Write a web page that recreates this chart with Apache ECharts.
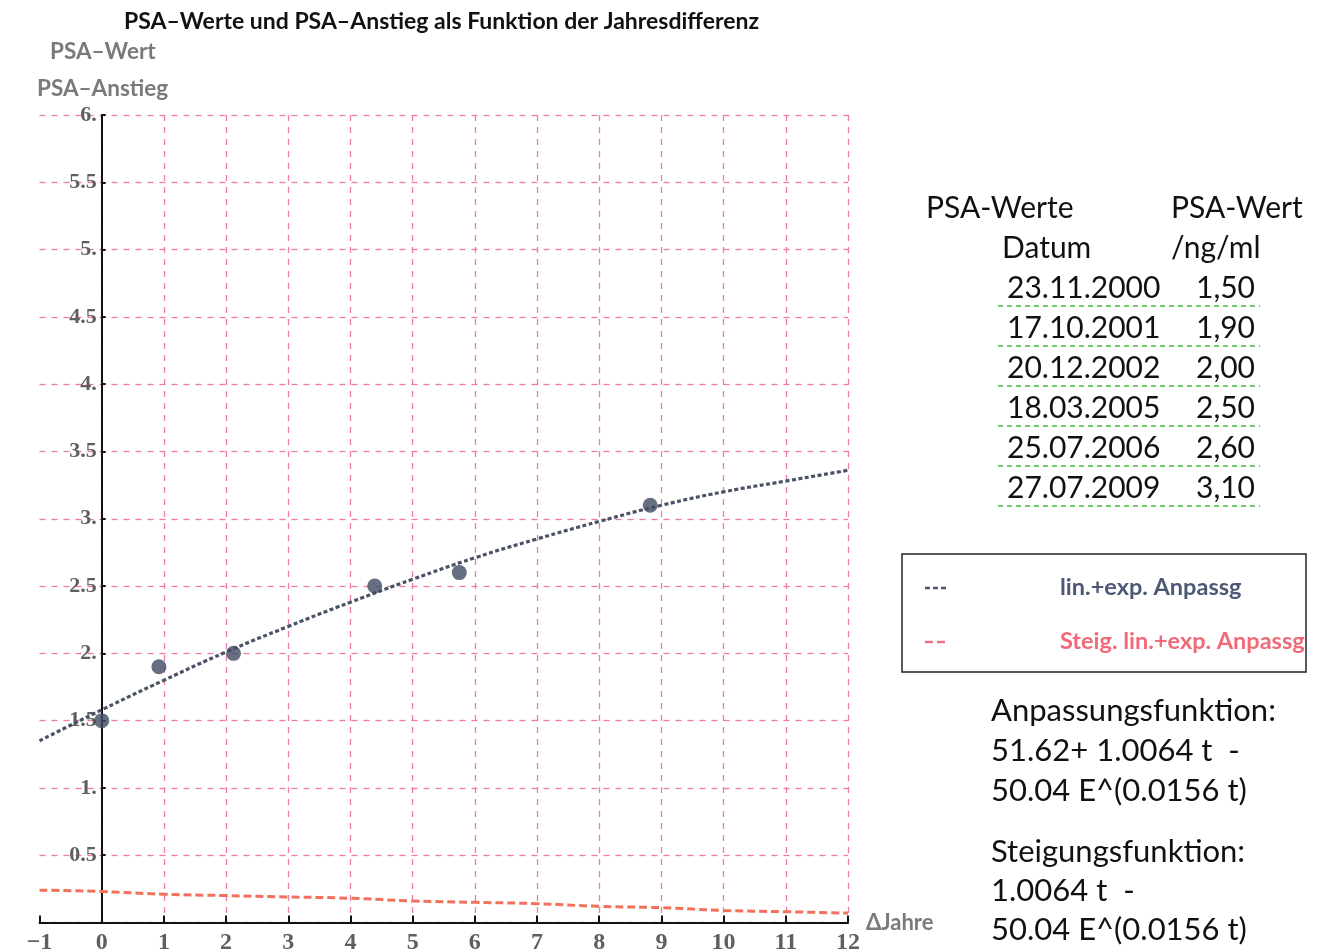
<!DOCTYPE html>
<html>
<head>
<meta charset="utf-8">
<script src="https://cdn.jsdelivr.net/npm/echarts@6/dist/echarts.min.js"></script>
<style>
  html, body { margin: 0; padding: 0; background: #fff; }
  #chart { width: 1322px; height: 951px; }
</style>
</head>
<body>
<div id="chart"></div>
<script>
// Measured PSA values
const measureDates = ['23.11.2000', '17.10.2001', '20.12.2002', '18.03.2005', '25.07.2006', '27.07.2009'];
const yearDiff = [0, 0.92, 2.12, 4.39, 5.75, 8.82];
const psaValues = [1.50, 1.90, 2.00, 2.50, 2.60, 3.10];

// Fitted curve and its slope, sampled per year
const curveYears = [-1, 0, 1, 2, 3, 4, 5, 6, 7, 8, 9, 10, 11, 12];
const fitValues = [1.35, 1.58, 1.80, 2.01, 2.20, 2.38, 2.55, 2.71, 2.85, 2.98, 3.10, 3.20, 3.28, 3.36];
const slopeValues = [0.24, 0.23, 0.21, 0.20, 0.19, 0.18, 0.16, 0.15, 0.14, 0.12, 0.11, 0.09, 0.08, 0.07];

// Text blocks
const titleText = 'PSA–Werte und PSA–Anstieg als Funktion der Jahresdifferenz';
const fitFormula = ['Anpassungsfunktion:', '51.62+ 1.0064 t  -', '50.04 E^(0.0156 t)'];
const slopeFormula = ['Steigungsfunktion:', '1.0064 t  -', '50.04 E^(0.0156 t)'];
const legendNames = ['lin.+exp. Anpassg', 'Steig. lin.+exp. Anpassg'];

const SANS = 'Lato, "Open Sans", sans-serif';
const SERIF = '"Liberation Serif", "DejaVu Serif", serif';
const PINK = '#f27aa6';
const FIT_COLOR = '#4a5366';
const SLOPE_COLOR = '#f2705c';
const POINT_COLOR = '#3f4b62';
const TICK_LABEL_COLOR = '#5f5f5f';

const chart = echarts.init(document.getElementById('chart'), null, { renderer: 'canvas' });

const gridLeft = 39.5, gridRight = 474, gridTop = 115, gridBottom = 28.5;
// y axis sits at t = 0, one year to the right of the plot's left border
const yAxisShift = (1322 - gridLeft - gridRight) / 13;

// Vertical grid lines: none at the left border (t = -1)
const vColors = curveYears.map((t, i) => i === 0 ? 'rgba(0,0,0,0)' : PINK);

const graphics = [];

graphics.push({
  type: 'text', left: 124, top: 10,
  style: { text: titleText, font: 'bold 23px ' + SANS, fill: '#111' }
});
graphics.push({
  type: 'text', left: 50, top: 40,
  style: { text: 'PSA–Wert', font: 'bold 22.5px ' + SANS, fill: '#7a7a7a' }
});
graphics.push({
  type: 'text', left: 37, top: 77,
  style: { text: 'PSA–Anstieg', font: 'bold 22.5px ' + SANS, fill: '#7a7a7a' }
});

// Value table
const tableFont = '30px ' + SANS;
graphics.push({ type: 'text', x: 926, y: 208, style: { text: 'PSA-Werte', font: tableFont, fill: '#111', verticalAlign: 'middle' } });
graphics.push({ type: 'text', x: 1171, y: 208, style: { text: 'PSA-Wert', font: tableFont, fill: '#111', verticalAlign: 'middle' } });
graphics.push({ type: 'text', x: 1002, y: 248, style: { text: 'Datum', font: tableFont, fill: '#111', verticalAlign: 'middle' } });
graphics.push({ type: 'text', x: 1171, y: 248, style: { text: '/ng/ml', font: tableFont, fill: '#111', verticalAlign: 'middle' } });
measureDates.forEach((d, i) => {
  const y = 288 + i * 40;
  graphics.push({ type: 'text', x: 1007, y: y, style: { text: d, font: tableFont, fill: '#111', verticalAlign: 'middle' } });
  graphics.push({ type: 'text', x: 1255, y: y, style: { text: psaValues[i].toFixed(2).replace('.', ','), font: tableFont, fill: '#111', align: 'right', verticalAlign: 'middle' } });
  graphics.push({ type: 'line', shape: { x1: 998, y1: y + 18, x2: 1260, y2: y + 18 }, style: { stroke: '#6fcf6f', lineWidth: 2, lineDash: [5, 4] } });
});

// Legend box
graphics.push({ type: 'rect', shape: { x: 902, y: 554, width: 404, height: 118 }, style: { fill: '#fff', stroke: '#222', lineWidth: 1.5 } });
graphics.push({ type: 'line', shape: { x1: 925, y1: 588, x2: 948, y2: 588 }, style: { stroke: FIT_COLOR, lineWidth: 2.5, lineDash: [5, 3] } });
graphics.push({ type: 'line', shape: { x1: 925, y1: 642, x2: 948, y2: 642 }, style: { stroke: '#f0708a', lineWidth: 2.5, lineDash: [8, 4] } });
graphics.push({ type: 'text', x: 1060, y: 587, style: { text: legendNames[0], font: 'bold 23.5px ' + SANS, fill: '#4d5877', verticalAlign: 'middle' } });
graphics.push({ type: 'text', x: 1060, y: 641, style: { text: legendNames[1], font: 'bold 23.5px ' + SANS, fill: '#f06a78', verticalAlign: 'middle' } });

// Formulas
const formulaFont = '31px ' + SANS;
fitFormula.forEach((line, i) => {
  graphics.push({ type: 'text', x: 991, y: 711 + i * 40, style: { text: line, font: formulaFont, fill: '#111', verticalAlign: 'middle' } });
});
slopeFormula.forEach((line, i) => {
  graphics.push({ type: 'text', x: 991, y: 852 + i * 39, style: { text: line, font: formulaFont, fill: '#111', verticalAlign: 'middle' } });
});

const option = {
  backgroundColor: '#fff',
  animation: false,
  grid: {
    left: gridLeft, right: gridRight, top: gridTop, bottom: gridBottom,
    containLabel: false, outerBoundsMode: 'none'
  },
  xAxis: {
    type: 'value', min: -1, max: 12, interval: 1,
    name: 'ΔJahre', nameLocation: 'end', nameGap: 12,
    nameTextStyle: { fontFamily: SANS, fontSize: 22, fontWeight: 'bold', color: '#7a7a7a', verticalAlign: 'middle', padding: [0, 0, 0, 0] },
    axisLine: { onZero: true, lineStyle: { color: '#111', width: 2 } },
    axisTick: { inside: true, length: 7, lineStyle: { color: '#111', width: 2 } },
    axisLabel: {
      margin: 8, fontFamily: SERIF, fontSize: 24, fontWeight: 'bold', color: TICK_LABEL_COLOR,
      formatter: v => String(v).replace('-', '−')
    },
    splitLine: { show: true, lineStyle: { color: vColors, type: [6, 6], width: 1.3 } }
  },
  yAxis: {
    type: 'value', min: 0, max: 6, interval: 0.5,
    offset: -yAxisShift,
    axisLine: { onZero: false, lineStyle: { color: '#111', width: 2 } },
    axisTick: { inside: true, length: 4, lineStyle: { color: '#111', width: 2 } },
    axisLabel: {
      margin: 5, fontFamily: SERIF, fontSize: 22, fontWeight: 'bold', color: TICK_LABEL_COLOR,
      formatter: v => v === 0 ? '' : (Number.isInteger(v) ? v + '.' : String(v))
    },
    splitLine: { show: true, lineStyle: { color: PINK, type: [6, 6], width: 1.3 } }
  },
  series: [
    {
      name: legendNames[1], type: 'line', smooth: true, symbol: 'none', z: 3,
      data: curveYears.map((t, i) => [t, slopeValues[i]]),
      lineStyle: { color: SLOPE_COLOR, width: 3, type: [8, 4] }
    },
    {
      name: legendNames[0], type: 'line', smooth: true, symbol: 'none', z: 3,
      data: curveYears.map((t, i) => [t, fitValues[i]]),
      lineStyle: { color: FIT_COLOR, width: 3.2, type: [4, 2.5] }
    },
    {
      name: 'PSA-Werte', type: 'scatter', symbol: 'circle', symbolSize: 15, z: 4,
      data: yearDiff.map((t, i) => [t, psaValues[i]]),
      itemStyle: { color: POINT_COLOR }
    }
  ],
  graphic: graphics
};

chart.setOption(option);
</script>
</body>
</html>
